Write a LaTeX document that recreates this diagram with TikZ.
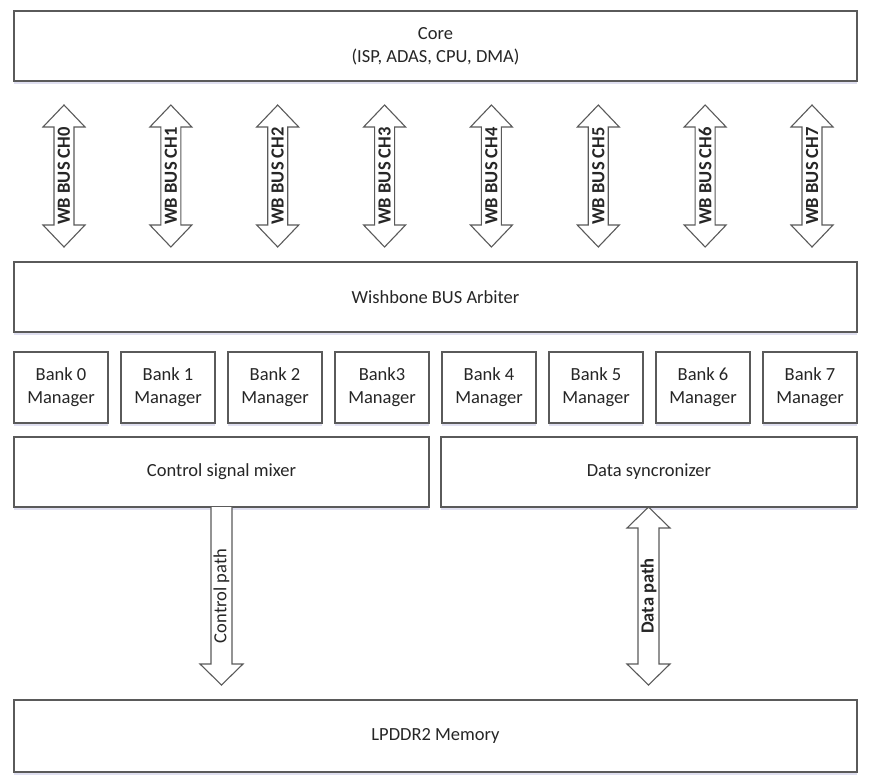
\documentclass[tikz,border=0pt]{standalone}
\usepackage{fontspec}
\setmainfont{Carlito}
\usetikzlibrary{shadows,calc}
\definecolor{edge}{HTML}{5A5A5A}
\definecolor{txt}{HTML}{262626}
\begin{document}
\begin{tikzpicture}[x=1pt,y=-1pt,
  box/.style={draw=edge, line width=1.1pt, fill=white, rectangle, inner sep=0pt,
     text=txt, font=\fontsize{18.5}{23}\selectfont, align=center,
     drop shadow={shadow xshift=0pt, shadow yshift=-2.5pt, fill=blue!35!gray, opacity=0.18}},
  blockarrow/.style={draw=edge, line width=1.1pt, fill=white, line join=miter},
  vlabel/.style={rotate=90, text=txt, inner sep=0pt, font=\fontsize{18.5}{20}\selectfont},
  vbold/.style={vlabel, font=\fontsize{18.5}{20}\selectfont\bfseries}
]
\useasboundingbox[fill=white] (0,0) rectangle (877,780);

% main boxes
\node[box, minimum width=843pt, minimum height=70pt] (core) at (435.5,46) {Core\\(ISP, ADAS, CPU, DMA)};
\node[box, minimum width=843pt, minimum height=70pt] (arb) at (435.5,297) {Wishbone BUS Arbiter};
\foreach \i/\lab in {0/Bank 0,1/Bank 1,2/Bank 2,3/Bank3,4/Bank 4,5/Bank 5,6/Bank 6,7/Bank 7}{
  \node[box, minimum width=94pt, minimum height=71pt] (bank\i) at (61+107*\i,387.5) {\lab\\Manager};
}
\node[box, minimum width=415pt, minimum height=70pt] (mix) at (221.5,472) {Control signal mixer};
\node[box, minimum width=416pt, minimum height=70pt] (sync) at (649,472) {Data syncronizer};
\node[box, minimum width=843pt, minimum height=72pt] (mem) at (435.5,736) {LPDDR2 Memory};

% WB bus double arrows between core and arbiter
\foreach \i in {0,...,7}{
  \pgfmathsetmacro\cx{64+106.857*\i}
  \coordinate (top\i) at (\cx,105);
  \coordinate (bot\i) at (\cx,247);
  \draw[blockarrow] (top\i) -- ++(21,22) -- ++(-11,0) -- ++(0,98) -- ++(11,0) -- (bot\i)
     -- ++(-21,-22) -- ++(11,0) -- ++(0,-98) -- ++(-11,0) -- cycle;
  \node[vbold] (ch\i) at ($(top\i)!0.5!(bot\i)$) {WB BUS CH\i};
}

% control path: single arrow from mixer down to memory
\coordinate (cpS) at (221.5,507);
\coordinate (cpT) at (221.5,685);
\draw[blockarrow] (cpS) ++(-10.5,0) -- ++(0,157) -- ++(-11,0) -- (cpT) -- ++(21.5,-21) -- ++(-11,0) -- ++(0,-157);
\node[vlabel] (cplab) at ($(cpS)!0.5!(cpT)$) {Control path};

% data path: double arrow between sync and memory
\coordinate (dpT) at (648.5,507);
\coordinate (dpB) at (648.5,685);
\draw[blockarrow] (dpT) -- ++(21.5,21) -- ++(-11,0) -- ++(0,136) -- ++(11,0) -- (dpB)
   -- ++(-21.5,-21) -- ++(11,0) -- ++(0,-136) -- ++(-11,0) -- cycle;
\node[vbold] (dplab) at ($(dpT)!0.5!(dpB)$) {Data path};
\end{tikzpicture}
\end{document}
